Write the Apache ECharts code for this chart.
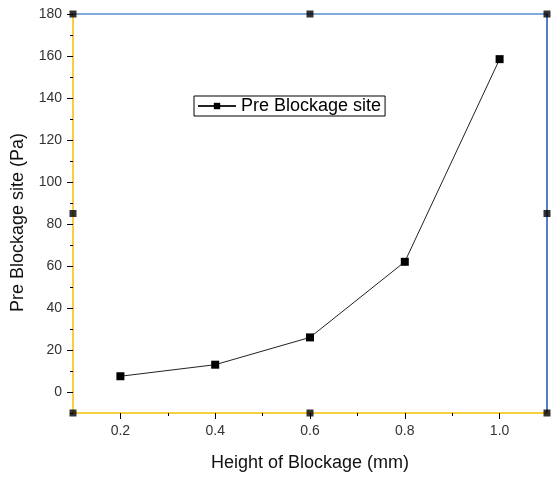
<!DOCTYPE html>
<html>
<head>
<meta charset="utf-8">
<script src="https://cdn.jsdelivr.net/npm/echarts@6/dist/echarts.min.js"></script>
<style>
  html, body { margin: 0; padding: 0; background: #fff; }
  #chart { width: 552px; height: 477px; }
</style>
</head>
<body>
<div id="chart"></div>
<script>
// Blockage height (mm) against pressure at the pre-blockage site (Pa)
const heights = [0.2, 0.4, 0.6, 0.8, 1.0];
const pressures = [7.5, 13, 26, 62, 158.5];
const seriesName = 'Pre Blockage site';

// Axis ticks
const xMajor = [0.2, 0.4, 0.6, 0.8, 1.0];
const xMinor = [0.3, 0.5, 0.7, 0.9];
const yMajor = [0, 20, 40, 60, 80, 100, 120, 140, 160, 180];
const yMinor = [-10, 10, 30, 50, 70, 90, 110, 130, 150, 170];

// Frame selection handles at corners and edge midpoints
const handleX = [0.1, 0.6, 1.1, 0.1, 1.1, 0.1, 0.6, 1.1];
const handleY = [180, 180, 180, 85, 85, -10, -10, -10];

const FONT = 'Arial, "Liberation Sans", sans-serif';
const chart = echarts.init(document.getElementById('chart'));

const baseX = {
  type: 'value', min: 0.1, max: 1.1, interval: 0.1,
  splitLine: { show: false }
};
const baseY = {
  type: 'value', min: -10, max: 180, interval: 10,
  splitLine: { show: false }
};

chart.setOption({
  animation: false,
  backgroundColor: '#fff',
  grid: { left: 73, right: 5, top: 14, bottom: 62, containLabel: false },
  legend: {
    data: [seriesName],
    left: 194, top: 96,
    orient: 'horizontal',
    padding: [1, 4, 1, 3],
    borderColor: '#000', borderWidth: 1,
    itemWidth: 38, itemHeight: 8,
    itemGap: 4,
    textStyle: { fontFamily: FONT, fontSize: 18, color: '#000' }
  },
  xAxis: [
    Object.assign({}, baseX, {
      position: 'bottom',
      name: 'Height of Blockage (mm)',
      nameLocation: 'middle', nameGap: 41,
      nameTextStyle: { fontFamily: FONT, fontSize: 18, color: '#111' },
      axisLine: { show: true, onZero: false, lineStyle: { color: '#f2c200', width: 1.5 } },
      axisTick: { show: true, inside: false, length: 6, customValues: xMajor, lineStyle: { color: '#000' } },
      axisLabel: { show: true, margin: 11, customValues: xMajor,
        formatter: v => v.toFixed(1),
        fontFamily: FONT, fontSize: 14, color: '#333' }
    }),
    Object.assign({}, baseX, {
      position: 'bottom',
      axisLine: { show: false, onZero: false },
      axisTick: { show: true, inside: false, length: 3, customValues: xMinor, lineStyle: { color: '#000' } },
      axisLabel: { show: false }
    }),
    Object.assign({}, baseX, {
      position: 'top',
      axisLine: { show: true, onZero: false, lineStyle: { color: '#5b8fd2', width: 1.5 } },
      axisTick: { show: false },
      axisLabel: { show: false }
    })
  ],
  yAxis: [
    Object.assign({}, baseY, {
      position: 'left',
      name: 'Pre Blockage site (Pa)',
      nameLocation: 'middle', nameGap: 46,
      nameTextStyle: { fontFamily: FONT, fontSize: 18, color: '#111', padding: [0, 18, 0, 0] },
      axisLine: { show: true, onZero: false, lineStyle: { color: '#f2c200', width: 1.5 } },
      axisTick: { show: true, inside: false, length: 6, customValues: yMajor, lineStyle: { color: '#000' } },
      axisLabel: { show: true, margin: 11, customValues: yMajor,
        fontFamily: FONT, fontSize: 14, color: '#333' }
    }),
    Object.assign({}, baseY, {
      position: 'left',
      axisLine: { show: false, onZero: false },
      axisTick: { show: true, inside: false, length: 3, customValues: yMinor, lineStyle: { color: '#000' } },
      axisLabel: { show: false }
    }),
    Object.assign({}, baseY, {
      position: 'right',
      axisLine: { show: true, onZero: false, lineStyle: { color: '#1f52b5', width: 1.5 } },
      axisTick: { show: false },
      axisLabel: { show: false }
    })
  ],
  series: [
    {
      name: seriesName,
      type: 'line',
      xAxisIndex: 0, yAxisIndex: 0,
      data: heights.map((h, i) => [h, pressures[i]]),
      symbol: 'rect', symbolSize: 8,
      lineStyle: { color: '#222', width: 1 },
      itemStyle: { color: '#000' },
      z: 5
    },
    {
      name: 'handles',
      type: 'scatter',
      xAxisIndex: 0, yAxisIndex: 0,
      data: handleX.map((x, i) => [x, handleY[i]]),
      symbol: 'rect', symbolSize: 7,
      clip: false,
      itemStyle: { color: '#000' },
      silent: true,
      z: 6
    }
  ]
});
</script>
</body>
</html>
